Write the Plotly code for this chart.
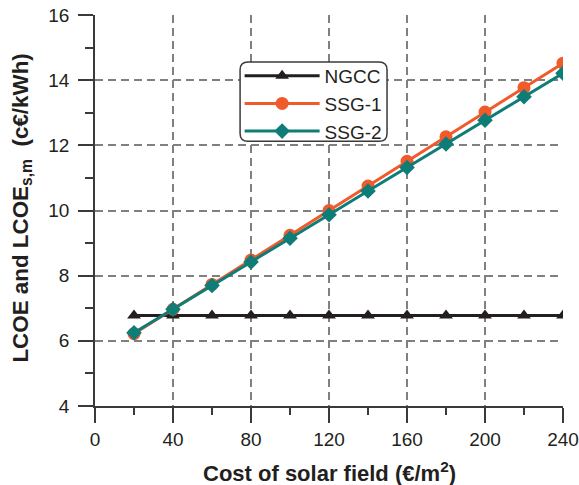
import plotly.graph_objects as go

cost = [20, 40, 60, 80, 100, 120, 140, 160, 180, 200, 220, 240]
ngcc = [6.78, 6.78, 6.78, 6.78, 6.78, 6.78, 6.78, 6.78, 6.78, 6.78, 6.78, 6.78]
ssg1 = [6.22, 6.97, 7.73, 8.48, 9.24, 10.0, 10.75, 11.51, 12.26, 13.02, 13.77, 14.52]
ssg2 = [6.25, 6.97, 7.70, 8.42, 9.15, 9.87, 10.60, 11.32, 12.04, 12.77, 13.49, 14.21]
x_ticks = [0, 40, 80, 120, 160, 200, 240]
y_ticks = [4, 6, 8, 10, 12, 14, 16]
x_title = "<b>Cost of solar field (€/m<sup>2</sup>)</b>"
y_title = "<b>LCOE and LCOE<sub>s,m</sub>  (c€/kWh)</b>"

FONT = "Liberation Sans, Arial, sans-serif"
TXT = "#231f20"
BLACK = "#231f20"
ORANGE = "#f15a2b"
TEAL = "#0e7d78"

fig = go.Figure()
fig.add_trace(go.Scatter(x=cost, y=ngcc, name="NGCC", mode="lines+markers",
                         line=dict(color=BLACK, width=3),
                         marker=dict(symbol="triangle-up", size=12, color=BLACK)))
fig.add_trace(go.Scatter(x=cost, y=ssg1, name="SSG-1", mode="lines+markers",
                         line=dict(color=ORANGE, width=3),
                         marker=dict(symbol="circle", size=13, color=ORANGE)))
fig.add_trace(go.Scatter(x=cost, y=ssg2, name="SSG-2", mode="lines+markers",
                         line=dict(color=TEAL, width=3),
                         marker=dict(symbol="diamond", size=12, color=TEAL)))

axis_common = dict(
    showline=True, linecolor="#3a3a3a", linewidth=1.5,
    ticks="outside", ticklen=15, tickwidth=1.5, tickcolor="#3a3a3a",
    showgrid=True, gridcolor="#808080", gridwidth=1.5, griddash="8px,5px",
    zeroline=False, tickfont=dict(family=FONT, size=19, color=TXT),
    automargin=False,
)

fig.update_layout(
    width=579, height=485,
    margin=dict(l=95, r=16, t=15, b=79),
    paper_bgcolor="white", plot_bgcolor="white",
    font=dict(family=FONT, color=TXT),
    xaxis=dict(range=[0, 240], tickmode="array", tickvals=x_ticks, ticklabelstandoff=0,
               minor=dict(tickmode="array", tickvals=[20, 60, 100, 140, 180, 220],
                          ticklen=7, tickwidth=1.5, tickcolor="#3a3a3a", ticks="outside", showgrid=False),
               **axis_common),
    yaxis=dict(range=[4, 16], tickmode="array", tickvals=y_ticks, ticklabelstandoff=5,
               minor=dict(tickmode="array", tickvals=[5, 7, 9, 11, 13, 15],
                          ticklen=8, tickwidth=1.5, tickcolor="#3a3a3a", ticks="outside", showgrid=False),
               **axis_common),
    legend=dict(x=0.309, y=0.893, xanchor="left", yanchor="top",
                bgcolor="rgba(255,255,255,0)", borderwidth=0,
                font=dict(family=FONT, size=19, color=TXT),
                itemwidth=75, tracegroupgap=0),
    showlegend=True,
)

fig.add_annotation(text=x_title, xref="paper", yref="paper", x=0.5, y=-0.17,
                   xanchor="center", yanchor="middle", showarrow=False,
                   font=dict(family=FONT, size=22, color=TXT))
fig.add_annotation(text=y_title, xref="paper", yref="paper", x=-0.158, y=0.505,
                   xanchor="center", yanchor="middle", showarrow=False, textangle=-90,
                   font=dict(family=FONT, size=22.4, color=TXT))

# rounded legend frame
x0, x1, y0, y1 = 0.310, 0.624, 0.677, 0.880
rx, ry = 0.017, 0.02
path = (f"M{x0+rx},{y0} L{x1-rx},{y0} Q{x1},{y0} {x1},{y0+ry} "
        f"L{x1},{y1-ry} Q{x1},{y1} {x1-rx},{y1} L{x0+rx},{y1} Q{x0},{y1} {x0},{y1-ry} "
        f"L{x0},{y0+ry} Q{x0},{y0} {x0+rx},{y0} Z")
fig.add_shape(type="path", path=path, xref="paper", yref="paper",
              line=dict(color="#3a3a3a", width=1.5), fillcolor="white", layer="above")

fig.write_html("out.html", config={"displayModeBar": False},
               post_script="document.body.style.margin='0';")
